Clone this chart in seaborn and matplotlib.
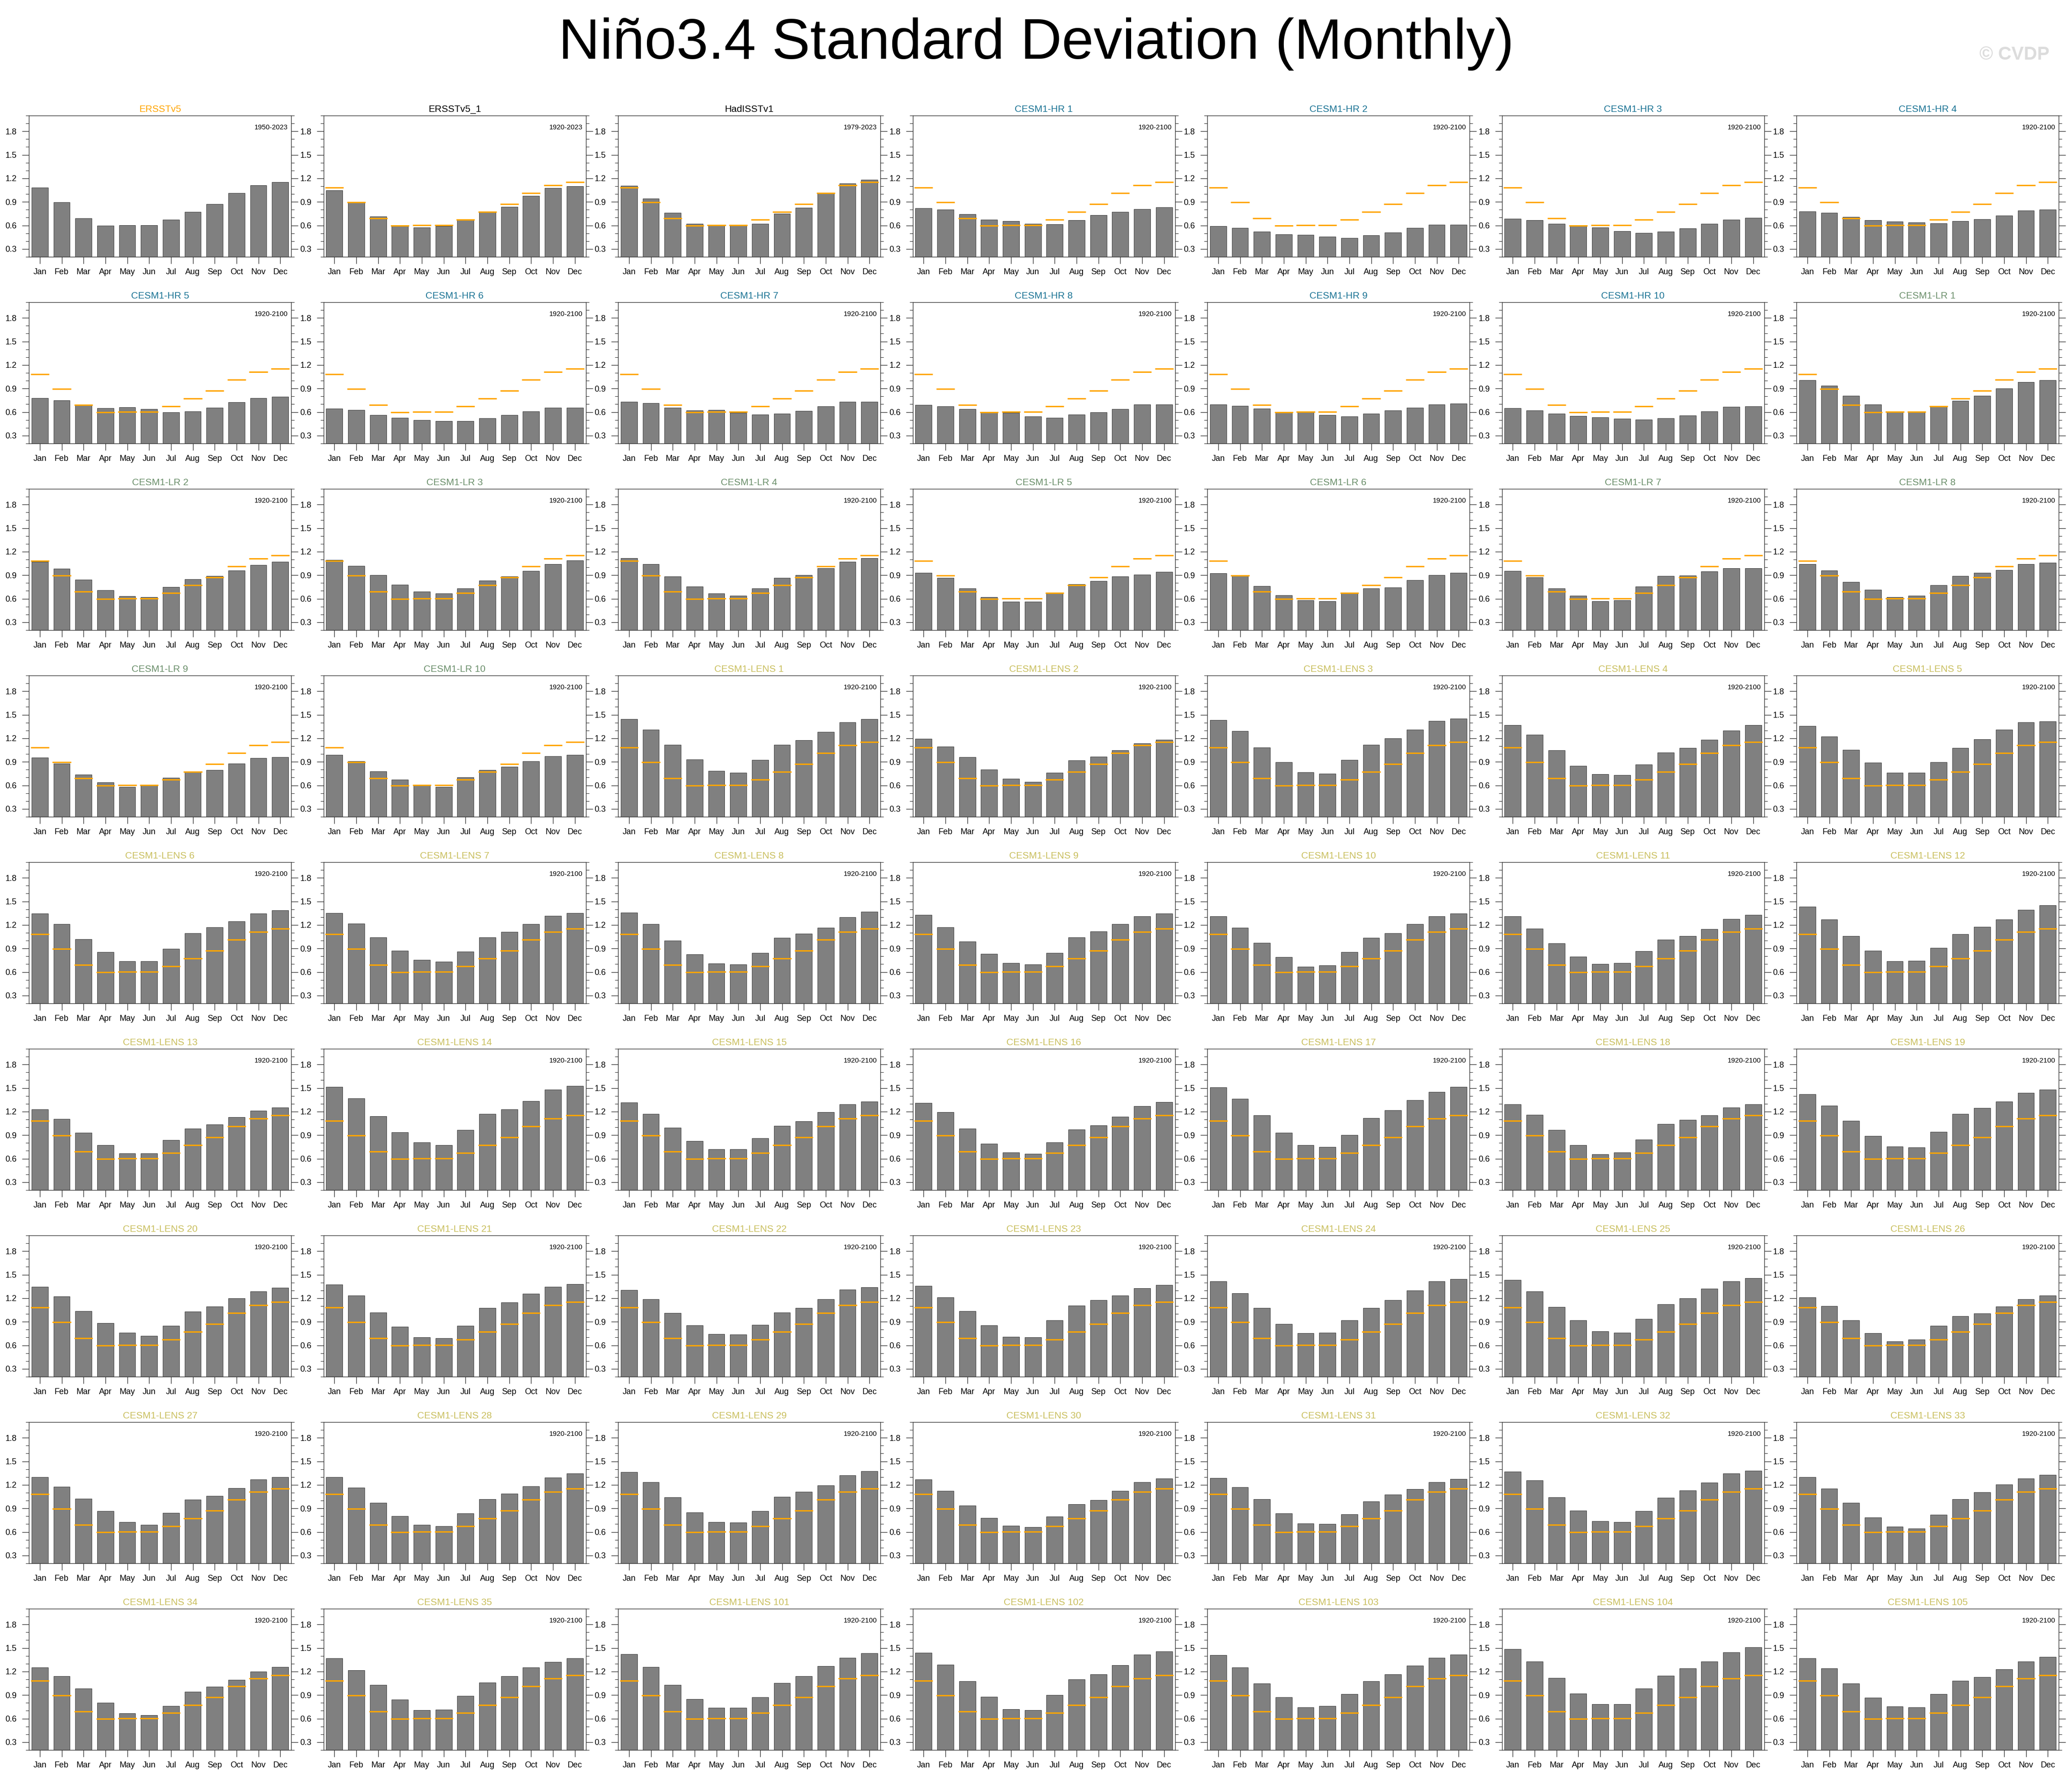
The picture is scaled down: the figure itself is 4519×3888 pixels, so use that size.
import numpy as np
import matplotlib
matplotlib.use("Agg")
import matplotlib.pyplot as plt
import seaborn as sns

# --- dados ---
months = ['Jan', 'Feb', 'Mar', 'Apr', 'May', 'Jun', 'Jul', 'Aug', 'Sep', 'Oct', 'Nov', 'Dec']

# referencia observada (linhas laranja)
ersstv5 = [1.085, 0.895, 0.693, 0.600, 0.604, 0.606, 0.675, 0.774, 0.870, 1.014, 1.114, 1.155]

obs_names = ['ERSSTv5', 'ERSSTv5_1', 'HadISSTv1']
obs_periods = ['1950-2023', '1920-2023', '1979-2023']
obs_colors = ['#FFA500', 'black', 'black']
obs_values = [
    ersstv5,
    [1.048, 0.903, 0.715, 0.605, 0.573, 0.590, 0.665, 0.775, 0.836, 0.980, 1.075, 1.102],
    [1.106, 0.945, 0.761, 0.618, 0.609, 0.609, 0.618, 0.748, 0.828, 1.016, 1.137, 1.182],
]

hr_names = ['CESM1-HR %d' % i for i in range(1, 11)]
hr_values = [
    [0.819, 0.802, 0.743, 0.676, 0.654, 0.622, 0.613, 0.667, 0.730, 0.775, 0.810, 0.833],
    [0.591, 0.569, 0.524, 0.488, 0.479, 0.457, 0.439, 0.475, 0.510, 0.569, 0.609, 0.609],
    [0.685, 0.667, 0.622, 0.591, 0.573, 0.528, 0.506, 0.519, 0.564, 0.622, 0.676, 0.699],
    [0.781, 0.761, 0.710, 0.669, 0.651, 0.636, 0.629, 0.658, 0.681, 0.728, 0.793, 0.804],
    [0.779, 0.748, 0.698, 0.651, 0.664, 0.637, 0.597, 0.610, 0.657, 0.725, 0.779, 0.795],
    [0.644, 0.624, 0.563, 0.529, 0.499, 0.486, 0.486, 0.519, 0.563, 0.610, 0.657, 0.657],
    [0.734, 0.716, 0.658, 0.622, 0.627, 0.591, 0.569, 0.582, 0.613, 0.672, 0.730, 0.734],
    [0.690, 0.676, 0.640, 0.604, 0.591, 0.542, 0.528, 0.569, 0.600, 0.640, 0.694, 0.699],
    [0.699, 0.681, 0.645, 0.604, 0.604, 0.560, 0.546, 0.578, 0.618, 0.658, 0.699, 0.707],
    [0.649, 0.622, 0.582, 0.551, 0.533, 0.515, 0.506, 0.524, 0.555, 0.609, 0.667, 0.672],
]

lr_names = ['CESM1-LR %d' % i for i in range(1, 11)]
lr_values = [
    [1.007, 0.936, 0.810, 0.694, 0.609, 0.600, 0.676, 0.743, 0.810, 0.900, 0.981, 1.007],
    [1.070, 0.985, 0.842, 0.707, 0.631, 0.622, 0.748, 0.851, 0.887, 0.958, 1.030, 1.070],
    [1.093, 1.021, 0.900, 0.779, 0.690, 0.667, 0.734, 0.833, 0.882, 0.954, 1.039, 1.088],
    [1.115, 1.039, 0.882, 0.757, 0.667, 0.636, 0.734, 0.869, 0.900, 0.990, 1.070, 1.115],
    [0.931, 0.864, 0.734, 0.622, 0.564, 0.560, 0.676, 0.784, 0.828, 0.882, 0.909, 0.940],
    [0.927, 0.887, 0.761, 0.645, 0.578, 0.569, 0.667, 0.734, 0.743, 0.837, 0.904, 0.931],
    [0.954, 0.873, 0.734, 0.636, 0.569, 0.578, 0.757, 0.887, 0.896, 0.949, 0.990, 0.990],
    [1.043, 0.958, 0.815, 0.712, 0.622, 0.636, 0.770, 0.891, 0.931, 0.967, 1.039, 1.061],
    [0.954, 0.878, 0.739, 0.640, 0.578, 0.604, 0.699, 0.775, 0.797, 0.878, 0.949, 0.958],
    [0.990, 0.909, 0.779, 0.672, 0.600, 0.582, 0.703, 0.797, 0.837, 0.909, 0.972, 0.990],
]

lens_members = list(range(1, 36)) + list(range(101, 106))
lens_names = ['CESM1-LENS %d' % m for m in lens_members]
lens_values = [
    [1.442, 1.308, 1.115, 0.931, 0.784, 0.761, 0.927, 1.119, 1.178, 1.281, 1.402, 1.442],
    [1.196, 1.097, 0.958, 0.802, 0.685, 0.645, 0.761, 0.918, 0.967, 1.048, 1.137, 1.182],
    [1.433, 1.290, 1.084, 0.896, 0.766, 0.748, 0.922, 1.119, 1.200, 1.308, 1.419, 1.451],
    [1.370, 1.249, 1.048, 0.851, 0.743, 0.734, 0.869, 1.021, 1.079, 1.182, 1.299, 1.370],
    [1.357, 1.222, 1.052, 0.891, 0.761, 0.761, 0.896, 1.079, 1.187, 1.312, 1.406, 1.415],
    [1.343, 1.209, 1.021, 0.855, 0.739, 0.739, 0.896, 1.093, 1.173, 1.245, 1.348, 1.388],
    [1.352, 1.218, 1.039, 0.873, 0.757, 0.734, 0.860, 1.039, 1.110, 1.209, 1.316, 1.352],
    [1.357, 1.209, 0.999, 0.824, 0.707, 0.694, 0.842, 1.034, 1.088, 1.164, 1.299, 1.370],
    [1.325, 1.173, 0.990, 0.833, 0.716, 0.699, 0.842, 1.043, 1.115, 1.209, 1.308, 1.348],
    [1.308, 1.164, 0.972, 0.793, 0.667, 0.685, 0.855, 1.034, 1.097, 1.209, 1.308, 1.343],
    [1.308, 1.151, 0.963, 0.797, 0.703, 0.716, 0.869, 1.012, 1.061, 1.146, 1.276, 1.325],
    [1.433, 1.272, 1.061, 0.873, 0.739, 0.743, 0.909, 1.084, 1.178, 1.272, 1.393, 1.451],
    [1.231, 1.106, 0.931, 0.770, 0.667, 0.667, 0.837, 0.985, 1.034, 1.128, 1.213, 1.254],
    [1.513, 1.366, 1.142, 0.936, 0.806, 0.770, 0.963, 1.173, 1.227, 1.334, 1.478, 1.527],
    [1.316, 1.173, 0.994, 0.828, 0.721, 0.721, 0.860, 1.016, 1.075, 1.196, 1.294, 1.330],
    [1.308, 1.196, 0.985, 0.793, 0.681, 0.663, 0.806, 0.972, 1.025, 1.137, 1.267, 1.321],
    [1.509, 1.361, 1.151, 0.931, 0.775, 0.748, 0.904, 1.115, 1.218, 1.348, 1.451, 1.513],
    [1.290, 1.160, 0.963, 0.770, 0.658, 0.681, 0.842, 1.043, 1.097, 1.155, 1.254, 1.290],
    [1.424, 1.276, 1.084, 0.891, 0.757, 0.743, 0.940, 1.173, 1.245, 1.330, 1.437, 1.478],
    [1.348, 1.222, 1.037, 0.883, 0.763, 0.721, 0.846, 1.032, 1.097, 1.199, 1.287, 1.334],
    [1.376, 1.236, 1.018, 0.837, 0.702, 0.688, 0.846, 1.078, 1.148, 1.255, 1.348, 1.380],
    [1.306, 1.185, 1.013, 0.855, 0.744, 0.739, 0.860, 1.018, 1.074, 1.185, 1.311, 1.338],
    [1.357, 1.213, 1.037, 0.855, 0.711, 0.702, 0.916, 1.106, 1.176, 1.236, 1.329, 1.371],
    [1.417, 1.264, 1.078, 0.874, 0.758, 0.763, 0.916, 1.078, 1.176, 1.301, 1.417, 1.445],
    [1.436, 1.287, 1.088, 0.916, 0.776, 0.763, 0.939, 1.125, 1.199, 1.324, 1.417, 1.459],
    [1.213, 1.102, 0.916, 0.753, 0.651, 0.674, 0.846, 0.972, 1.009, 1.092, 1.190, 1.236],
    [1.297, 1.176, 1.023, 0.865, 0.725, 0.688, 0.841, 1.013, 1.060, 1.157, 1.269, 1.301],
    [1.297, 1.162, 0.972, 0.800, 0.688, 0.674, 0.837, 1.018, 1.088, 1.180, 1.292, 1.343],
    [1.362, 1.232, 1.041, 0.851, 0.725, 0.721, 0.869, 1.046, 1.111, 1.194, 1.320, 1.376],
    [1.269, 1.125, 0.934, 0.781, 0.679, 0.660, 0.795, 0.953, 1.009, 1.125, 1.232, 1.283],
    [1.287, 1.171, 1.018, 0.837, 0.707, 0.702, 0.828, 0.990, 1.078, 1.148, 1.232, 1.273],
    [1.366, 1.255, 1.041, 0.874, 0.739, 0.725, 0.865, 1.037, 1.129, 1.227, 1.343, 1.380],
    [1.301, 1.153, 0.972, 0.786, 0.665, 0.646, 0.818, 1.018, 1.106, 1.204, 1.283, 1.329],
    [1.250, 1.143, 0.985, 0.804, 0.670, 0.642, 0.763, 0.944, 1.004, 1.092, 1.199, 1.259],
    [1.366, 1.218, 1.027, 0.841, 0.711, 0.716, 0.888, 1.060, 1.139, 1.250, 1.324, 1.371],
    [1.422, 1.255, 1.027, 0.851, 0.739, 0.739, 0.874, 1.055, 1.143, 1.269, 1.376, 1.436],
    [1.441, 1.287, 1.078, 0.879, 0.721, 0.707, 0.902, 1.102, 1.167, 1.283, 1.413, 1.459],
    [1.408, 1.250, 1.046, 0.874, 0.744, 0.763, 0.911, 1.074, 1.167, 1.273, 1.376, 1.413],
    [1.487, 1.329, 1.120, 0.920, 0.786, 0.786, 0.981, 1.148, 1.241, 1.329, 1.445, 1.510],
    [1.371, 1.241, 1.050, 0.865, 0.753, 0.744, 0.911, 1.083, 1.129, 1.227, 1.329, 1.385],
]

HR_COLOR = '#1A7394'
LR_COLOR = '#6B8F6B'
LENS_COLOR = '#C9BF5E'
REF_COLOR = '#FFA500'

# lista de paineis na ordem da figura
panels = []
for n, p, c, v in zip(obs_names, obs_periods, obs_colors, obs_values):
    panels.append((n, p, c, v))
for n, v in zip(hr_names, hr_values):
    panels.append((n, '1920-2100', HR_COLOR, v))
for n, v in zip(lr_names, lr_values):
    panels.append((n, '1920-2100', LR_COLOR, v))
for n, v in zip(lens_names, lens_values):
    panels.append((n, '1920-2100', LENS_COLOR, v))

sns.set_theme(style="ticks")
plt.rcParams['font.family'] = ['Liberation Sans', 'DejaVu Sans']
plt.rcParams['axes.edgecolor'] = '#333333'
plt.rcParams['xtick.color'] = '#333333'
plt.rcParams['ytick.color'] = '#333333'
plt.rcParams['xtick.labelcolor'] = 'black'
plt.rcParams['ytick.labelcolor'] = 'black'

W, H = 4519, 3888
fig = plt.figure(figsize=(W / 100, H / 100), dpi=100)
fig.patch.set_facecolor('white')

ncols = 7
ax_w, ax_h = 572, 308
x0, dx = 63, 642.5
y0, dy = 252, 407

for i, (name, period, tcolor, vals) in enumerate(panels):
    r, c = divmod(i, ncols)
    left = (x0 + dx * c) / W
    bottom = 1 - (y0 + dy * r + ax_h) / H
    ax = fig.add_axes([left, bottom, ax_w / W, ax_h / H])

    sns.barplot(x=months, y=vals, color='#808080', saturation=1, width=0.75,
                edgecolor='#2b2b2b', linewidth=0.6, ax=ax, zorder=2)
    if i > 0:
        xs = np.arange(len(months))
        ax.hlines(ersstv5, xs - 0.42, xs + 0.42, colors=REF_COLOR, linewidth=2.2, zorder=3)

    ax.set_xlim(-0.5, 11.5)
    ax.set_ylim(0.2, 2.0)
    ax.set_yticks([0.3, 0.6, 0.9, 1.2, 1.5, 1.8])
    ax.set_yticklabels(['0.3', '0.6', '0.9', '1.2', '1.5', '1.8'])
    ax.set_yticks(np.arange(0.2, 2.01, 0.1), minor=True)
    ax.set_xlabel('')
    ax.set_ylabel('')

    ax.tick_params(axis='y', which='major', direction='out', length=11, width=1,
                   left=True, right=True, labelsize=13, pad=8)
    ax.tick_params(axis='y', which='minor', direction='out', length=5, width=0.8,
                   left=True, right=True)
    ax.tick_params(axis='x', which='major', direction='out', length=11, width=1,
                   bottom=True, top=False, labelsize=13, pad=7)
    ax.tick_params(axis='x', which='minor', bottom=False, top=False)

    for s in ax.spines.values():
        s.set_visible(True)
        s.set_linewidth(1.0)
        s.set_color('#333333')

    ax.set_title(name, color=tcolor, fontsize=15, pad=6)
    ax.text(0.988, 0.903, period, transform=ax.transAxes, ha='right', va='baseline',
            fontsize=11, color='black')

fig.text(0.5, 1 - 128 / H, 'Niño3.4 Standard Deviation (Monthly)', ha='center',
         va='baseline', fontsize=90, color='black')
fig.text(4470 / W, 1 - 130 / H, '© CVDP', ha='right', va='baseline', fontsize=29,
         fontweight='bold', color='#dcdcdc')

fig.savefig('out.png', dpi=100, facecolor='white')
plt.close(fig)
